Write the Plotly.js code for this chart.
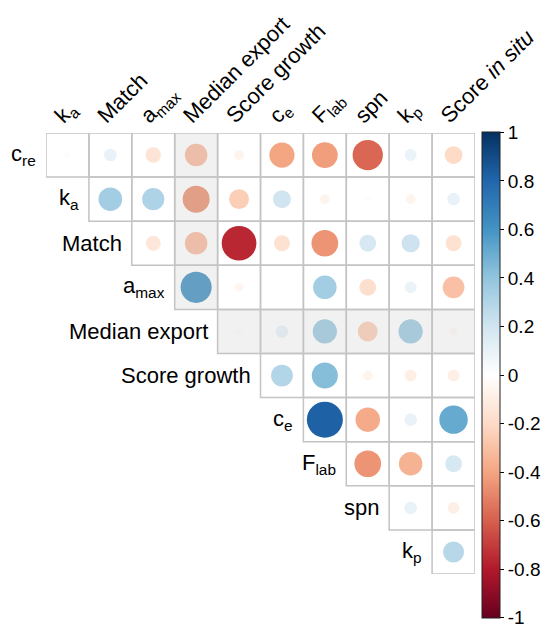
<!DOCTYPE html>
<html>
<head>
<meta charset="utf-8">
<script src="https://cdn.plot.ly/plotly-3.0.1.min.js"></script>
<style>html,body{margin:0;padding:0;background:#fff;}#chart{width:554px;height:627px;}</style>
</head>
<body>
<div id="chart"></div>
<script>
// Column (x) labels, left to right
var colLabels = ['k<sub>a</sub>', 'Match', 'a<sub>max</sub>', 'Median export', 'Score growth',
                 'c<sub>e</sub>', 'F<sub>lab</sub>', 'spn', 'k<sub>p</sub>', 'Score <i>in situ</i>'];
// Row labels, top to bottom
var rowLabels = ['c<sub>re</sub>', 'k<sub>a</sub>', 'Match', 'a<sub>max</sub>', 'Median export',
                 'Score growth', 'c<sub>e</sub>', 'F<sub>lab</sub>', 'spn', 'k<sub>p</sub>'];

// Correlations, upper triangle; row i starts at column i
var r_cre    = [0.02, 0.10, -0.15, -0.32, -0.06, -0.40, -0.42, -0.58, 0.09, -0.20];
var r_ka     = [0.35, 0.31, -0.46, -0.25, 0.20, -0.06, -0.02, -0.06, 0.10];
var r_match  = [-0.14, -0.32, -0.76, -0.16, -0.45, 0.18, 0.21, -0.16];
var r_amax   = [0.61, -0.05, 0.00, 0.35, -0.18, 0.09, -0.30];
var r_median = [0.02, 0.10, 0.37, -0.25, 0.37, -0.04];
var r_sgrow  = [0.30, 0.43, -0.06, -0.09, -0.09];
var r_ce     = [0.82, -0.38, 0.10, 0.51];
var r_flab   = [-0.45, -0.35, 0.18];
var r_spn    = [0.10, -0.09];
var r_kp     = [0.28];

var rows = [r_cre, r_ka, r_match, r_amax, r_median, r_sgrow, r_ce, r_flab, r_spn, r_kp];
var highlight = 'Median export';

var W = 554, H = 627;
var M = {l: 46, r: 66, t: 133, b: 53};
var plotW = W - M.l - M.r, plotH = H - M.t - M.b;
var nCol = colLabels.length, nRow = rowLabels.length;
var cellPx = plotW / nCol;

var xs = [], ys = [], vals = [], sizes = [];
var shapes = [];
var hiCol = colLabels.indexOf(highlight);
var hiRow = rowLabels.indexOf(highlight);
rows.forEach(function (arr, i) {
  arr.forEach(function (v, k) {
    var j = i + k;
    xs.push(j); ys.push(i); vals.push(v);
    sizes.push(0.9 * Math.sqrt(Math.abs(v)) * cellPx);
    var hi = (j === hiCol || i === hiRow);
    shapes.push({
      type: 'rect', xref: 'x', yref: 'y',
      x0: j - 0.5, x1: j + 0.5, y0: i - 0.5, y1: i + 0.5,
      layer: 'above',
      fillcolor: hi ? 'rgba(200,200,200,0.26)' : 'rgba(0,0,0,0)',
      line: {color: '#c4c4c4', width: 1.5}
    });
  });
});

var annotations = rowLabels.map(function (lab, i) {
  return {
    x: i - 0.5, y: i, xref: 'x', yref: 'y', text: lab, showarrow: false,
    xanchor: 'right', yanchor: 'middle', xshift: -8,
    font: {family: 'Liberation Sans, Arial, sans-serif', size: 22, color: '#000'}
  };
});

var rdbu = [
  [0.0, '#67001F'], [0.1, '#B2182B'], [0.2, '#D6604D'], [0.3, '#F4A582'], [0.4, '#FDDBC7'],
  [0.5, '#FFFFFF'], [0.6, '#D1E5F0'], [0.7, '#92C5DE'], [0.8, '#4393C3'], [0.9, '#2166AC'],
  [1.0, '#053061']
];
var cbTicks = [-1, -0.8, -0.6, -0.4, -0.2, 0, 0.2, 0.4, 0.6, 0.8, 1];
var labelShift = -0.27; // column labels start slightly left of the column centre

var trace = {
  type: 'scatter', mode: 'markers', x: xs, y: ys, hoverinfo: 'skip',
  marker: {
    size: sizes, sizemode: 'diameter', color: vals, colorscale: rdbu, cmin: -1.002, cmax: 1.002,
    line: {width: 0}, opacity: 1,
    colorbar: {
      thickness: 18, thicknessmode: 'pixels', len: 486, lenmode: 'pixels',
      x: 1 + (495 - (W - M.r)) / plotW, xanchor: 'left', xref: 'paper',
      y: 1 + 1 / plotH, yanchor: 'top', yref: 'paper',
      xpad: 0, ypad: 0, outlinewidth: 1, outlinecolor: '#222',
      tickvals: cbTicks, ticktext: cbTicks.map(String),
      ticks: 'outside', ticklen: 4, tickcolor: '#000', tickwidth: 1,
      ticklabeloverflow: 'allow',
      tickfont: {family: 'Liberation Sans, Arial, sans-serif', size: 19, color: '#000'}
    }
  }
};

var layout = {
  width: W, height: H, margin: M, showlegend: false,
  paper_bgcolor: '#fff', plot_bgcolor: 'rgba(0,0,0,0)',
  xaxis: {
    range: [-0.5, nCol - 0.5], side: 'top',
    tickvals: colLabels.map(function (_, i) { return i + labelShift; }),
    ticktext: colLabels, tickangle: -45, ticks: '', showgrid: false, zeroline: false, showline: false,
    tickfont: {family: 'Liberation Sans, Arial, sans-serif', size: 22, color: '#000'}, fixedrange: true
  },
  yaxis: {
    range: [nRow - 0.5, -0.5], showticklabels: false, ticks: '', showgrid: false, zeroline: false,
    showline: false, fixedrange: true
  },
  shapes: shapes, annotations: annotations
};

Plotly.newPlot('chart', [trace], layout, {displayModeBar: false, staticPlot: true});
</script>
</body>
</html>
